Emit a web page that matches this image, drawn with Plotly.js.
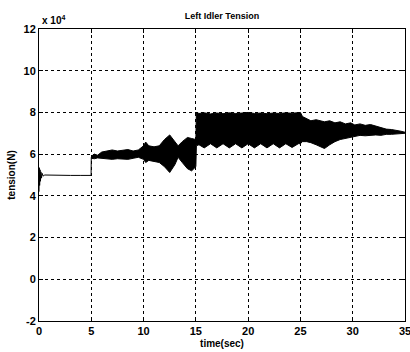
<!DOCTYPE html>
<html>
<head>
<meta charset="utf-8">
<script src="https://cdn.plot.ly/plotly-3.0.1.min.js"></script>
<style>html,body{margin:0;padding:0;background:#fff;}#chart{width:410px;height:352px;}</style>
</head>
<body>
<div id="chart"></div>
<script>
// tension values in units of 1e4 N
// thin start-up part (single line)
var tLine = [0, 0.03, 0.06, 0.1, 0.14, 0.18, 0.24, 0.3, 0.4, 0.55, 1, 2, 3, 4, 4.98, 5.0];
var vLine = [4.2, 5.35, 4.5, 5.25, 4.7, 5.15, 4.85, 5.08, 4.95, 5.0, 4.99, 4.98, 4.98, 4.98, 4.98, 5.85];

// oscillating part: upper and lower envelope
var tBand = [5.0, 5.3, 5.6, 6.0, 6.5, 7.0, 7.5, 8.0, 8.5, 9.0, 9.5, 10.0, 10.2, 10.5, 11.0, 11.5, 12.0, 12.5, 13.0, 13.3, 13.7, 14.2, 14.6, 15.0,
             15.05, 15.3, 15.8, 16.4, 17.0, 17.6, 18.2, 18.8, 19.4, 20.0, 20.6, 21.2, 21.8, 22.4, 23.0, 23.6, 24.2, 24.8,
             25.0, 25.2, 25.6, 26.0, 26.5, 27.0, 27.3, 27.8, 28.3, 28.8, 29.3, 29.8, 30.2, 30.7, 31.2, 31.7, 32.2, 32.7, 33.2, 33.7, 34.2, 34.6, 35.0];
var vHigh = [5.9, 6.0, 5.95, 6.1, 6.15, 6.2, 6.15, 6.2, 6.22, 6.15, 6.2, 6.4, 6.58, 6.4, 6.35, 6.4, 6.7, 6.92, 6.6, 6.4, 6.6, 6.8, 6.75, 6.7,
             8.0, 7.95, 7.98, 7.93, 7.97, 7.94, 7.98, 7.95, 7.97, 8.0, 7.95, 7.97, 7.94, 7.97, 7.95, 7.98, 7.96, 8.0,
             8.0, 7.8, 7.7, 7.6, 7.65, 7.6, 7.55, 7.6, 7.5, 7.55, 7.45, 7.5, 7.4, 7.45, 7.38, 7.42, 7.35, 7.3, 7.2, 7.18, 7.15, 7.1, 7.05];
var vLow  = [5.8, 5.78, 5.82, 5.8, 5.75, 5.75, 5.78, 5.75, 5.75, 5.8, 5.85, 5.75, 5.6, 5.7, 5.65, 5.6, 5.4, 5.12, 5.5, 5.85, 5.6, 5.3, 5.2, 5.4,
             6.4, 6.45, 6.3, 6.5, 6.3, 6.5, 6.3, 6.5, 6.3, 6.5, 6.3, 6.5, 6.3, 6.5, 6.3, 6.5, 6.32, 6.5,
             6.5, 6.6, 6.6, 6.55, 6.45, 6.35, 6.27, 6.45, 6.6, 6.7, 6.75, 6.8, 6.85, 6.9, 6.88, 6.9, 6.92, 6.9, 6.95, 6.95, 6.97, 6.98, 7.0];

var xTicks = [0, 5, 10, 15, 20, 25, 30, 35];
var yTicks = [-2, 0, 2, 4, 6, 8, 10, 12];

var tf = {family: 'Liberation Sans, Arial, sans-serif', size: 11, color: '#000', weight: 'bold'};
var lf = {family: 'Liberation Sans, Arial, sans-serif', size: 10, color: '#000', weight: 'bold'};

var traces = [
  {x: tLine, y: vLine, mode: 'lines', line: {color: '#000', width: 1}, showlegend: false, hoverinfo: 'skip'},
  {x: tBand, y: vLow, mode: 'lines', line: {color: '#000', width: 1}, showlegend: false, hoverinfo: 'skip'},
  {x: tBand, y: vHigh, mode: 'lines', fill: 'tonexty', fillcolor: '#000', line: {color: '#000', width: 1}, showlegend: false, hoverinfo: 'skip'}
];

var axisCommon = {
  showline: true, linecolor: '#000', linewidth: 1, mirror: 'ticks',
  ticks: 'inside', ticklen: 4, tickcolor: '#000',
  showgrid: true, gridcolor: '#000', gridwidth: 1, griddash: '3px,3px',
  zeroline: false, tickfont: tf, automargin: false, ticklabeloverflow: 'allow'
};

var layout = {
  width: 410, height: 352,
  margin: {l: 39, r: 5, t: 29, b: 31},
  paper_bgcolor: '#fff', plot_bgcolor: '#fff',
  title: {text: 'Left Idler Tension', x: 0.5, xref: 'paper', xanchor: 'center', y: 1 - 16/352, yanchor: 'middle',
          font: {family: 'Liberation Sans, Arial, sans-serif', size: 9, color: '#000', weight: 'bold'}},
  xaxis: Object.assign({}, axisCommon, {range: [0, 35], tickvals: xTicks, ticktext: xTicks.map(String),
          title: {text: 'time(sec)', font: lf, standoff: 3}}),
  yaxis: Object.assign({}, axisCommon, {range: [-2, 12], tickvals: yTicks, ticktext: yTicks.map(String),
          title: {text: 'tension(N)', font: lf, standoff: 6}}),
  annotations: [
    {text: 'x 10<sup>4</sup>', xref: 'paper', yref: 'paper', x: 0.003, y: 1.005, xanchor: 'left', yanchor: 'bottom',
     showarrow: false, font: {family: 'Liberation Sans, Arial, sans-serif', size: 10, color: '#000', weight: 'bold'}}
  ]
};

Plotly.newPlot('chart', traces, layout, {displayModeBar: false, staticPlot: true});
</script>
</body>
</html>
